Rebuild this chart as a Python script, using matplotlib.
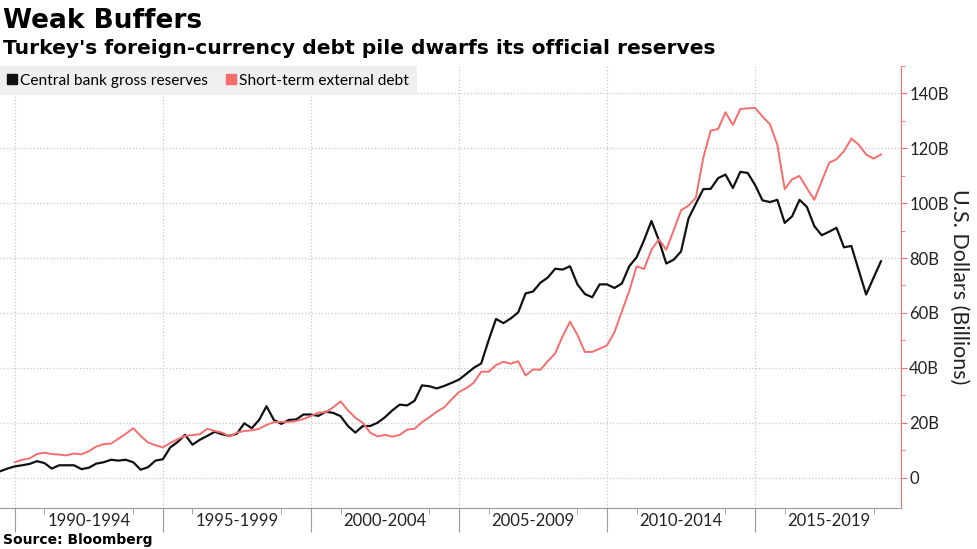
import matplotlib
matplotlib.use('Agg')
import matplotlib.pyplot as plt
from matplotlib.lines import Line2D
import numpy as np

plt.rcParams['font.family'] = ['Lato', 'DejaVu Sans']

# quarterly, in billions of USD
reserves_start = 1989.5
reserves = [2.3, 3.3, 4.1, 4.5, 5.0, 6.0, 5.3, 3.3, 4.5, 4.5,
            4.5, 3.1, 3.6, 5.1, 5.6, 6.5, 6.2, 6.5, 5.6, 2.9,
            3.8, 6.2, 6.7, 11.0, 13.0, 15.6, 12.0, 13.8, 15.2, 16.7,
            15.8, 15.2, 16.0, 19.8, 18.0, 21.0, 26.0, 21.0, 19.6, 21.0,
            21.2, 23.0, 23.0, 22.5, 24.0, 23.6, 22.4, 18.8, 16.4, 18.8,
            18.8, 20.0, 22.0, 24.5, 26.6, 26.3, 28.0, 33.6, 33.3, 32.5,
            33.4, 34.5, 35.7, 37.8, 40.0, 41.6, 50.0, 57.8, 56.3, 58.0,
            60.2, 67.1, 67.8, 71.0, 72.9, 76.1, 75.8, 77.0, 70.4, 66.9,
            65.7, 70.4, 70.4, 69.1, 70.7, 77.0, 80.3, 86.5, 93.5, 86.5,
            78.0, 79.4, 82.4, 94.4, 99.8, 105.1, 105.2, 109.1, 110.4, 105.5,
            111.4, 111.0, 106.6, 101.0, 100.4, 101.2, 92.8, 95.2, 101.2, 98.6,
            91.6, 88.3, 89.6, 91.0, 83.9, 84.4, 75.5, 66.7, 72.8, 78.8]

debt_start = 1990.0
debt = [5.6, 6.5, 7.0, 8.6, 9.1, 8.6, 8.4, 8.1, 8.8, 8.5,
        9.6, 11.3, 12.2, 12.4, 14.2, 16.0, 18.0, 15.2, 12.8, 11.8,
        11.0, 12.6, 14.0, 15.2, 15.5, 15.8, 17.8, 17.0, 16.4, 15.0,
        16.4, 17.0, 17.2, 17.8, 19.2, 20.2, 20.3, 20.3, 20.6, 21.4,
        22.4, 23.7, 23.8, 25.6, 27.8, 24.5, 21.8, 20.0, 16.4, 15.0,
        15.6, 14.9, 15.6, 17.5, 17.8, 20.2, 22.0, 24.0, 25.6, 28.5,
        31.2, 32.6, 34.6, 38.6, 38.6, 41.0, 42.2, 41.5, 42.4, 37.2,
        39.4, 39.3, 42.4, 45.3, 51.5, 56.8, 52.0, 45.8, 45.8, 47.0,
        48.2, 53.0, 60.5, 68.0, 77.0, 76.0, 83.0, 86.8, 83.0, 90.1,
        97.4, 99.1, 102.0, 116.5, 126.4, 127.0, 133.1, 128.5, 134.3, 134.5,
        134.7, 131.5, 128.8, 121.3, 105.1, 108.7, 109.9, 105.4, 101.2, 108.0,
        114.7, 116.0, 118.9, 123.5, 121.3, 117.7, 116.2, 117.7]

period_labels = ['1990-1994', '1995-1999', '2000-2004', '2005-2009',
                 '2010-2014', '2015-2019']
period_starts = [1990, 1995, 2000, 2005, 2010, 2015]
y_ticks = [0, 20, 40, 60, 80, 100, 120, 140]

RED = '#f66d6d'

t_res = reserves_start + 0.25 * np.arange(len(reserves))
t_debt = debt_start + 0.25 * np.arange(len(debt))

fig = plt.figure(figsize=(9.77, 5.49), dpi=100)
ax = fig.add_axes([0.0, 0.075, 0.922, 0.805])

ax.plot(t_res, reserves, color='#111111', lw=1.6, zorder=3)
ax.plot(t_debt, debt, color=RED, lw=1.4, zorder=3)

ax.set_xlim(1989.5, 2019.92)
ax.set_ylim(-11, 148)

# y axis on the right
ax.yaxis.tick_right()
ax.set_yticks(y_ticks)
ax.set_yticklabels([f'{v}B' if v else '0' for v in y_ticks])
ax.set_yticks([v + 10 for v in y_ticks], minor=True)
ax.tick_params(axis='y', which='major', length=4, color=RED, labelsize=12,
               labelcolor='#222222', pad=2)
ax.tick_params(axis='y', which='minor', length=3, color=RED)
ax.yaxis.set_label_position('right')
ax.set_ylabel('U.S. Dollars (Billions)', rotation=270, fontsize=15.5,
              labelpad=15, color='#222222')

# x axis
ax.set_xticks(period_starts)
ax.set_xticklabels([])
minor = [y for p in period_starts for y in (p + 1, p + 4)]
ax.set_xticks(minor, minor=True)
ax.tick_params(axis='x', which='major', length=17, color='#999999')
ax.tick_params(axis='x', which='minor', length=4, color='#999999')
for s, lab in zip(period_starts, period_labels):
    ax.text(s + 2.5, -0.011, lab, transform=ax.get_xaxis_transform(),
            ha='center', va='top', fontsize=12, color='#222222')

ax.grid(True, which='major', color='#c8c8c8', ls=':', lw=0.9)
ax.set_axisbelow(True)
for side in ['left', 'top']:
    ax.spines[side].set_visible(False)
ax.spines['right'].set_color(RED)
ax.spines['bottom'].set_color('#999999')

handles = [Line2D([], [], ls='', marker='s', color='#111111', markersize=7),
           Line2D([], [], ls='', marker='s', color=RED, markersize=7)]
leg = ax.legend(handles, ['Central bank gross reserves', 'Short-term external debt'],
                loc='upper left', bbox_to_anchor=(0, 1), ncol=2, frameon=True,
                fancybox=False, facecolor='#efefef', edgecolor='none',
                framealpha=1, fontsize=11.2, handlelength=0.6, handletextpad=0.2,
                columnspacing=1.2, borderaxespad=0, borderpad=0.5)

fig.text(0.003, 0.962, 'Weak Buffers', fontsize=19, fontweight='bold',
         family='DejaVu Sans', va='center', ha='left')
fig.text(0.003, 0.912, "Turkey's foreign-currency debt pile dwarfs its official reserves",
         fontsize=14.6, fontweight='bold', family='DejaVu Sans', va='center', ha='left')
fig.text(0.003, 0.016, 'Source: Bloomberg', fontsize=10, fontweight='bold',
         family='DejaVu Sans', va='center', ha='left')

fig.savefig('out.png', dpi=100)
